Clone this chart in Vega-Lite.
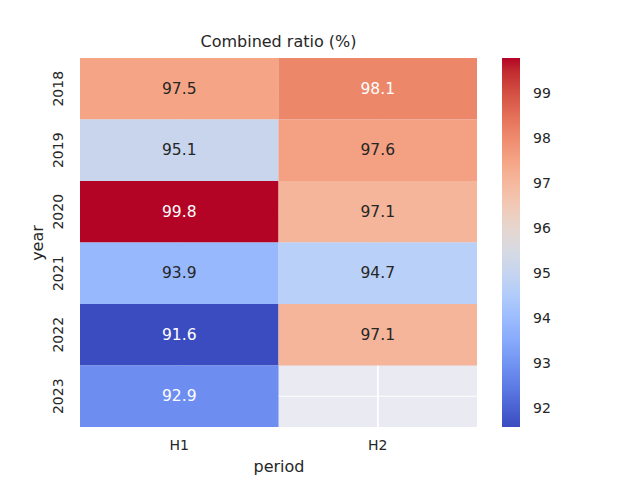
{
  "$schema": "https://vega.github.io/schema/vega-lite/v6.json",
  "width": 397,
  "height": 369,
  "autosize": {"type": "none"},
  "padding": {"left": 80, "top": 58, "right": 163, "bottom": 53},
  "background": "white",
  "title": {"text": "Combined ratio (%)", "fontSize": 16, "fontWeight": "normal", "color": "#262626", "font": "DejaVu Sans", "offset": 8},
  "config": {
    "font": "DejaVu Sans",
    "view": {"fill": "#EAEAF2", "stroke": null}
  },
  "data": {
    "values": [
      {"year": "2018", "period": "H1", "ratio": 97.5},
      {"year": "2018", "period": "H2", "ratio": 98.1},
      {"year": "2019", "period": "H1", "ratio": 95.1},
      {"year": "2019", "period": "H2", "ratio": 97.6},
      {"year": "2020", "period": "H1", "ratio": 99.8},
      {"year": "2020", "period": "H2", "ratio": 97.1},
      {"year": "2021", "period": "H1", "ratio": 93.9},
      {"year": "2021", "period": "H2", "ratio": 94.7},
      {"year": "2022", "period": "H1", "ratio": 91.6},
      {"year": "2022", "period": "H2", "ratio": 97.1},
      {"year": "2023", "period": "H1", "ratio": 92.9}
    ]
  },
  "layer": [
    {
      "mark": {"type": "rule", "color": "white", "strokeWidth": 1},
      "encoding": {
        "x": {"field": "period", "type": "nominal", "scale": {"domain": ["H1", "H2"], "paddingInner": 0, "paddingOuter": 0}, "bandPosition": 0.5,
          "axis": {"labelAngle": 0, "ticks": false, "domain": false, "grid": false, "labelFontSize": 14, "labelColor": "#262626", "labelPadding": 11, "titleFontSize": 16, "titleFontWeight": "normal", "titleColor": "#262626", "titlePadding": 6}}
      }
    },
    {
      "mark": {"type": "rule", "color": "white", "strokeWidth": 1},
      "encoding": {
        "y": {"field": "year", "type": "nominal", "scale": {"domain": ["2018", "2019", "2020", "2021", "2022", "2023"], "paddingInner": 0, "paddingOuter": 0}, "bandPosition": 0.5,
          "axis": {"labelAngle": -90, "ticks": false, "domain": false, "grid": false, "labelFontSize": 14, "labelColor": "#262626", "labelPadding": 15, "labelAlign": "center", "labelBaseline": "bottom", "titleFontSize": 16, "titleFontWeight": "normal", "titleColor": "#262626", "titlePadding": 6}}
      }
    },
    {
      "mark": {"type": "rect"},
      "encoding": {
        "x": {"field": "period", "type": "nominal"},
        "y": {"field": "year", "type": "nominal"},
        "color": {
          "field": "ratio", "type": "quantitative",
          "scale": {
            "domain": [91.6, 92.625, 93.65, 94.675, 95.7, 96.725, 97.75, 98.775, 99.8],
            "range": ["#3b4cc0", "#6282ea", "#8db0fe", "#b8d0f9", "#dddddd", "#f5c4ad", "#f49a7b", "#de604d", "#b40426"]
          },
          "legend": {
            "title": null,
            "orient": "right",
            "direction": "vertical",
            "offset": 25,
            "padding": 0,
            "gradientLength": 369,
            "gradientThickness": 18,
            "gradientStrokeWidth": 0,
            "values": [92, 93, 94, 95, 96, 97, 98, 99],
            "labelFontSize": 14,
            "labelColor": "#262626",
            "labelOffset": 13,
            "labelOverlap": false
          }
        }
      }
    },
    {
      "mark": {"type": "text", "fontSize": 15.5},
      "encoding": {
        "x": {"field": "period", "type": "nominal"},
        "y": {"field": "year", "type": "nominal"},
        "text": {"field": "ratio", "type": "quantitative", "format": ".1f"},
        "color": {
          "condition": {"test": "datum.ratio > 97.9 || datum.ratio < 93.3", "value": "white"},
          "value": "#262626"
        }
      }
    }
  ]
}
